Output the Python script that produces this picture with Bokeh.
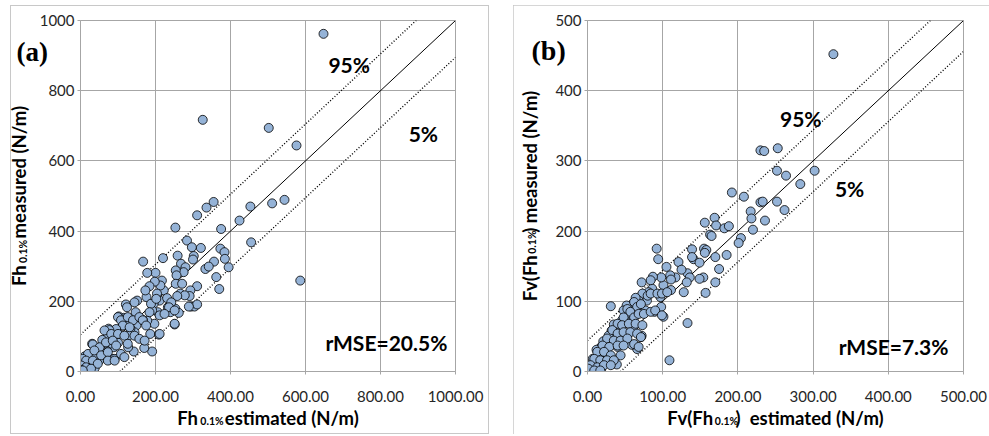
import math
from bokeh.plotting import figure
from bokeh.layouts import row
from bokeh.models import Range1d, FixedTicker, NumeralTickFormatter, Label, ColumnDataSource
from bokeh.embed import file_html
from bokeh.resources import INLINE

# ---------------- data: panel (a) ----------------
a_est = [648, 326, 502, 576, 311, 336, 355, 453, 424, 511, 544, 586, 455, 375, 253, 373, 384, 385, 395, 356,
         333, 342, 362, 370, 284, 297, 321, 302, 300, 311, 293, 291, 295, 304, 311, 289, 259, 268, 280, 275,
         254, 256, 254, 271, 266, 278, 258, 253, 262, 251, 233, 240, 220, 217, 222, 213, 204, 211, 231, 206,
         209, 200, 198, 184, 178, 167, 176, 173, 195, 191, 197, 186, 191, 170, 178, 166, 151, 147, 149, 142,
         144, 133, 121, 124, 115, 126, 133, 129, 127, 112, 102, 98, 93, 100, 89, 87, 75, 80, 73, 78,
         69, 75, 64, 58, 53, 46, 50, 40, 36, 31, 27, 25, 20, 11, 4, 1, 9, 38, 22,
         144, 188, 202, 242, 236, 251, 184, 211, 224, 100, 108, 126, 140, 157, 166, 175, 211, 251, 113, 131,
         95, 77, 64, 82, 100, 117, 144, 157, 171, 33, 51, 68, 86, 95, 126, 20, 37, 55, 73, 91,
         108, 117, 6, 15, 33, 46, 73, 91, 2, 15, 28, 1, 6]
a_meas = [962, 717, 694, 644, 445, 467, 483, 470, 430, 479, 489, 259, 368, 406, 410, 350, 340, 321, 297, 313,
          292, 299, 269, 235, 373, 354, 352, 329, 319, 243, 231, 215, 185, 185, 191, 185, 330, 307, 297, 283,
          288, 274, 250, 250, 222, 217, 215, 179, 167, 134, 183, 169, 323, 259, 231, 245, 222, 202, 209, 169,
          105, 281, 256, 243, 281, 313, 212, 231, 193, 174, 136, 107, 57, 67, 145, 147, 202, 169, 131, 57,
          112, 122, 191, 183, 153, 148, 141, 103, 69, 131, 157, 117, 98, 82, 69, 36, 122, 107, 100, 79,
          60, 33, 79, 90, 65, 55, 31, 69, 46, 79, 27, 12, 31, 43, 27, 3, 12, 10, 9,
          197, 193, 207, 197, 183, 174, 169, 160, 164, 155, 146, 155, 146, 155, 146, 131, 107, 136, 131, 126,
          121, 118, 117, 107, 107, 102, 102, 93, 88, 77, 69, 83, 88, 74, 79, 50, 60, 46, 55, 36,
          50, 41, 36, 31, 31, 22, 31, 31, 17, 12, 8, 5, 3]

# ---------------- data: panel (b) ----------------
b_est = [327, 230, 235, 253, 252, 264, 302, 283, 192, 208, 230, 233, 252, 262, 236, 217, 218, 220, 204, 201,
         169, 171, 182, 188, 156, 163, 165, 185, 170, 175, 170, 157, 154, 149, 155, 158, 156, 139, 141, 139,
         149, 133, 136, 132, 128, 133, 121, 125, 117, 110, 111, 111, 105, 101, 98, 101, 98, 97, 92, 94,
         87, 86, 89, 84, 81, 79, 77, 72, 73, 72, 71, 66, 68, 64, 64, 60, 57, 61, 59, 55,
         54, 52, 48, 46, 45, 43, 40, 39, 31, 35, 32, 30, 33, 28, 21, 26, 18, 12, 15, 7,
         18, 10, 4, 0.5, 1, 109,
         62, 66, 71, 80, 84, 93, 99, 106, 53, 57, 48, 62, 68, 75, 84, 90, 99, 40, 46, 55,
         64, 73, 33, 40, 48, 57, 66, 26, 35, 44, 53, 62, 71, 20, 29, 40, 48, 68, 13, 22,
         31, 44, 9, 17, 26, 35, 4, 13, 22, 31, 1, 9, 17]
b_meas = [452, 315, 314, 318, 286, 279, 286, 267, 255, 249, 241, 242, 242, 230, 215, 228, 218, 202, 190, 183,
          219, 208, 204, 207, 212, 195, 193, 166, 163, 146, 127, 112, 134, 132, 175, 173, 169, 174, 160, 163,
          155, 140, 134, 127, 113, 69, 156, 145, 134, 137, 131, 116, 149, 123, 134, 78, 92, 106, 175, 160,
          135, 118, 85, 130, 113, 101, 87, 127, 111, 51, 49, 32, 101, 105, 85, 96, 82, 63, 38, 70,
          54, 94, 87, 73, 61, 49, 35, 10, 93, 67, 58, 39, 16, 51, 43, 25, 35, 31, 20, 18,
          1.5, 6, 4, 1, 7, 16,
          99, 92, 96, 108, 111, 111, 111, 113, 89, 85, 77, 77, 82, 82, 85, 87, 80, 68, 66, 68,
          68, 66, 59, 54, 56, 56, 54, 47, 44, 44, 47, 39, 49, 37, 35, 37, 37, 35, 28, 28,
          23, 23, 18, 16, 16, 16, 9, 6, 9, 9, 4, 1.5, 1.5]

a_ticks = [0, 200, 400, 600, 800, 1000]
b_ticks = [0, 100, 200, 300, 400, 500]
a_band = 105
b_band = 44

# axis titles split where the small "0.1%" goes
a_xlab = ("Fh", "0.1%", " estimated (N/m)")
a_ylab = ("Fh", "0.1%", " measured (N/m)")
b_xlab = ("Fv(Fh", "0.1%", ")\u00a0 estimated (N/m)")
b_ylab = ("Fv(Fh", "0.1%", ") measured (N/m)")

FONT = "Lato"
GRID = "#A6A6A6"
MARK_FILL = "#95B3D7"
BIG = 18.5
SMALL = 10.5
NB_COUNT = 5
NB = "\u00a0" * NB_COUNT
SW = 5.0                  # estimated nbsp width at BIG
GAP = NB_COUNT * SW


def make_panel(xs, ys, vmax, ticks, band, w, h, bl, br, bt, bb):
    p = figure(width=w, height=h, output_backend="svg", toolbar_location=None,
               x_range=Range1d(0, vmax), y_range=Range1d(0, vmax),
               min_border_left=bl, min_border_right=br, min_border_top=bt, min_border_bottom=bb,
               background_fill_color="white", border_fill_color="white")
    p.title.visible = False
    p.outline_line_color = GRID
    p.xaxis.ticker = FixedTicker(ticks=ticks)
    p.yaxis.ticker = FixedTicker(ticks=ticks)
    p.xaxis.formatter = NumeralTickFormatter(format="0.00")
    p.yaxis.formatter = NumeralTickFormatter(format="0")
    for ax in (p.xaxis, p.yaxis):
        ax.axis_line_color = GRID
        ax.major_tick_line_color = GRID
        ax.major_tick_out = 3
        ax.major_tick_in = 0
        ax.minor_tick_line_color = None
        ax.major_label_text_font = FONT
        ax.major_label_text_font_size = "15px"
        ax.major_label_text_color = "#262626"
        ax.axis_label_text_font = FONT
        ax.axis_label_text_font_size = f"{BIG}px"
        ax.axis_label_text_font_style = "bold"
        ax.axis_label_text_color = "black"
    p.xaxis.major_label_standoff = 16
    p.yaxis.major_label_standoff = 3
    p.xaxis.axis_label_standoff = 2
    p.xgrid.grid_line_color = GRID
    p.ygrid.grid_line_color = GRID
    p.xgrid.ticker = FixedTicker(ticks=ticks)
    p.ygrid.ticker = FixedTicker(ticks=ticks)
    p.line([0, vmax], [0, vmax], line_color="black", line_width=1)
    p.line([0, vmax], [band, vmax + band], line_color="black", line_width=1.4, line_dash="1 2")
    p.line([0, vmax], [-band, vmax - band], line_color="black", line_width=1.4, line_dash="1 2")
    src = ColumnDataSource(dict(x=xs, y=ys))
    p.scatter("x", "y", source=src, size=9, fill_color=MARK_FILL, line_color="black", line_width=0.8)
    return p


def lab(p, x, y, text, size="21px"):
    p.add_layout(Label(x=x, y=y, text=text, text_font=FONT, text_font_size=size,
                       text_font_style="bold", text_align="left", text_baseline="middle",
                       text_color="black"))


def side_label(p, side, sx, sy, text, font, size, angle=0.0, baseline="alphabetic"):
    p.add_layout(Label(x=sx, y=sy, x_units="screen", y_units="screen", text=text,
                       text_font=font, text_font_size=size, text_font_style="bold", angle=angle,
                       text_baseline=baseline, text_align="left", text_color="black"), side)


# Panel (a): frame at page x 80..455, y 20..371; figure spans page x 0..502
p1 = make_panel(a_est, a_meas, 1000, a_ticks, a_band, 502, 429, 80, 47, 15, 63)
p1.border_fill_color = None
# Panel (b): frame at page x 587..963; figure starts at page x 513 and runs off the window
p2 = make_panel(b_est, b_meas, 500, b_ticks, b_band, 500, 429, 74, 50, 15, 63)

p1.yaxis.axis_label_standoff = 7
p2.yaxis.axis_label_standoff = 11

p1.xaxis.axis_label = a_xlab[0] + NB + a_xlab[2]
p1.yaxis.axis_label = a_ylab[0] + NB + a_ylab[2]
p2.xaxis.axis_label = b_xlab[0] + NB + b_xlab[2]
p2.yaxis.axis_label = b_ylab[0] + NB + b_ylab[2]

# ---- panel tags in the right side panels (first renderer there: starts at the frame's right edge)
side_label(p1, "right", 16 - 455, 371 - 51, "(a)", "Liberation Serif", "27px", baseline="middle")
side_label(p2, "right", 531 - 963, 371 - 50, "(b)", "Liberation Serif", "28px", baseline="middle")


# ---- small "0.1%" pieces
# x titles: in the above panel (its bottom is the frame top, page y 20)
def small_x(p, frame_left, center, w_head, w_tail, text):
    total = w_head + GAP + w_tail
    start = center - total / 2
    px = start + w_head + 1.0
    side_label(p, "above", px - frame_left, 20 - 420, text, FONT, f"{SMALL}px")


small_x(p1, 80, 267.5, 19.8, 132.2, a_xlab[1])
small_x(p2, 587, 775, 44.2, 142.5, b_xlab[1])


# y titles (rotated): in the right panel after the tag label
def small_y(p, panel_left, base_x, w_head, w_tail, text):
    total = w_head + GAP + w_tail
    start = 195.5 + total / 2
    py = start - w_head - 1.0
    side_label(p, "right", base_x - panel_left, 371 - py, text, FONT, f"{SMALL}px", angle=math.pi / 2)


small_y(p1, 455 + 32, 30.7 - 7, 19.8, 130.9, a_ylab[1])
small_y(p2, 963 + 34, 538.3 - 7, 44.2, 136.7, b_ylab[1])

lab(p1, 661, 875, "95%")
lab(p1, 875, 678, "5%")
lab(p1, 653, 84, "rMSE=20.5%")
lab(p2, 256, 360, "95%")
lab(p2, 329, 260, "5%")
lab(p2, 334, 35, "rMSE=7.3%")

lg = "linear-gradient(#C8C8C8, #C8C8C8)"
p1.styles = {
    "background-image": ", ".join([lg] * 4),
    "background-size": "1px 429px, 1px 429px, 479px 1px, 479px 1px",
    "background-position": "10px 0px, 488px 0px, 10px 0px, 10px 428px",
    "background-repeat": "no-repeat",
}
p2.styles = {"outline": "1px solid #C8C8C8", "outline-offset": "-1px"}

p1.margin = (5, 0, 0, 0)
p2.margin = (5, 0, 0, 11)

layout = row(p1, p2)
layout.spacing = 0

open("out.html", "w").write(file_html(layout, INLINE))
